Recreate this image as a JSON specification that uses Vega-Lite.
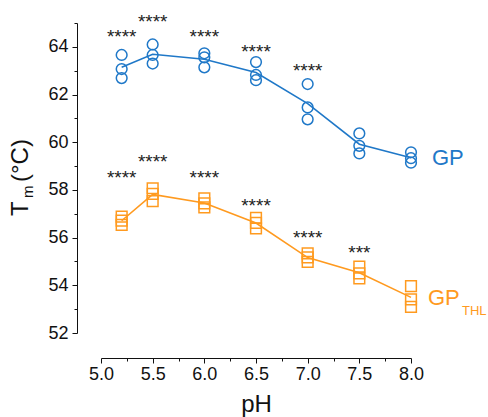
{
  "$schema": "https://vega.github.io/schema/vega-lite/v6.json",
  "width": 310,
  "height": 310,
  "autosize": {"type": "none"},
  "padding": {"left": 101, "top": 23, "right": 77, "bottom": 84},
  "background": "white",
  "config": {"font": "Liberation Sans", "view": {"stroke": null}},
  "datasets": {
    "pts": [
      {"series": "GP", "pH": 5.2, "Tm": 63.66}, {"series": "GP", "pH": 5.2, "Tm": 63.07}, {"series": "GP", "pH": 5.2, "Tm": 62.69},
      {"series": "GP", "pH": 5.5, "Tm": 64.1}, {"series": "GP", "pH": 5.5, "Tm": 63.66}, {"series": "GP", "pH": 5.5, "Tm": 63.3},
      {"series": "GP", "pH": 6.0, "Tm": 63.73}, {"series": "GP", "pH": 6.0, "Tm": 63.56}, {"series": "GP", "pH": 6.0, "Tm": 63.14},
      {"series": "GP", "pH": 6.5, "Tm": 63.36}, {"series": "GP", "pH": 6.5, "Tm": 62.82}, {"series": "GP", "pH": 6.5, "Tm": 62.6},
      {"series": "GP", "pH": 7.0, "Tm": 62.44}, {"series": "GP", "pH": 7.0, "Tm": 61.46}, {"series": "GP", "pH": 7.0, "Tm": 60.96},
      {"series": "GP", "pH": 7.5, "Tm": 60.37}, {"series": "GP", "pH": 7.5, "Tm": 59.85}, {"series": "GP", "pH": 7.5, "Tm": 59.53},
      {"series": "GP", "pH": 8.0, "Tm": 59.58}, {"series": "GP", "pH": 8.0, "Tm": 59.33}, {"series": "GP", "pH": 8.0, "Tm": 59.14},
      {"series": "GP_THL", "pH": 5.2, "Tm": 56.88}, {"series": "GP_THL", "pH": 5.2, "Tm": 56.71}, {"series": "GP_THL", "pH": 5.2, "Tm": 56.53},
      {"series": "GP_THL", "pH": 5.5, "Tm": 58.07}, {"series": "GP_THL", "pH": 5.5, "Tm": 57.83}, {"series": "GP_THL", "pH": 5.5, "Tm": 57.53},
      {"series": "GP_THL", "pH": 6.0, "Tm": 57.65}, {"series": "GP_THL", "pH": 6.0, "Tm": 57.44}, {"series": "GP_THL", "pH": 6.0, "Tm": 57.27},
      {"series": "GP_THL", "pH": 6.5, "Tm": 56.83}, {"series": "GP_THL", "pH": 6.5, "Tm": 56.62}, {"series": "GP_THL", "pH": 6.5, "Tm": 56.39},
      {"series": "GP_THL", "pH": 7.0, "Tm": 55.34}, {"series": "GP_THL", "pH": 7.0, "Tm": 55.17}, {"series": "GP_THL", "pH": 7.0, "Tm": 54.98},
      {"series": "GP_THL", "pH": 7.5, "Tm": 54.78}, {"series": "GP_THL", "pH": 7.5, "Tm": 54.5}, {"series": "GP_THL", "pH": 7.5, "Tm": 54.29},
      {"series": "GP_THL", "pH": 8.0, "Tm": 53.97}, {"series": "GP_THL", "pH": 8.0, "Tm": 53.41}, {"series": "GP_THL", "pH": 8.0, "Tm": 53.1}
    ],
    "stars": [
      {"pH": 5.2, "Tm": 64.62, "text": "****"},
      {"pH": 5.5, "Tm": 65.27, "text": "****"},
      {"pH": 6.0, "Tm": 64.62, "text": "****"},
      {"pH": 6.5, "Tm": 63.99, "text": "****"},
      {"pH": 7.0, "Tm": 63.2, "text": "****"},
      {"pH": 5.2, "Tm": 58.71, "text": "****"},
      {"pH": 5.5, "Tm": 59.38, "text": "****"},
      {"pH": 6.0, "Tm": 58.71, "text": "****"},
      {"pH": 6.5, "Tm": 57.55, "text": "****"},
      {"pH": 7.0, "Tm": 56.21, "text": "****"},
      {"pH": 7.5, "Tm": 55.58, "text": "***"}
    ],
    "bigLabels": [
      {"series": "GP", "pH": 8.203, "Tm": 59.045, "text": "GP"},
      {"series": "GP_THL", "pH": 8.164, "Tm": 53.174, "text": "GP"}
    ],
    "subLabels": [
      {"series": "GP_THL", "pH": 8.493, "Tm": 52.755, "text": "THL"}
    ],
    "titleBig": [
      {"pH": 4.2935, "Tm": 56.906, "text": "T"},
      {"pH": 4.2935, "Tm": 58.332, "text": "(°C)"}
    ],
    "titleSub": [
      {"pH": 4.3419, "Tm": 57.661, "text": "m"}
    ]
  },
  "encoding": {
    "x": {
      "field": "pH", "type": "quantitative",
      "scale": {"domain": [5, 8], "nice": false, "zero": false},
      "axis": {
        "title": "pH", "titleFontSize": 24, "titleFontWeight": "normal", "titleColor": "#111", "titlePadding": 9,
        "values": [5, 5.25, 5.5, 5.75, 6, 6.25, 6.5, 6.75, 7, 7.25, 7.5, 7.75, 8],
        "labelExpr": "(datum.value * 2) % 1 === 0 ? format(datum.value, '.1f') : ''",
        "labelFontSize": 18, "labelColor": "#111", "labelPadding": 2, "labelFlush": false, "labelOverlap": false,
        "tickSize": {"condition": {"test": "(datum.value * 2) % 1 === 0", "value": 5}, "value": 3},
        "tickColor": "#111", "domainColor": "#111", "grid": false, "offset": 25
      }
    },
    "y": {
      "field": "Tm", "type": "quantitative",
      "scale": {"domain": [52, 65], "nice": false, "zero": false},
      "axis": {
        "title": null,
        "values": [52, 53, 54, 55, 56, 57, 58, 59, 60, 61, 62, 63, 64, 65],
        "labelExpr": "datum.value % 2 === 0 ? datum.label : ''",
        "labelFontSize": 18, "labelColor": "#111", "labelPadding": 4, "labelOverlap": false, "labelFlush": false,
        "tickSize": {"condition": {"test": "datum.value % 2 === 0", "value": 5}, "value": 3},
        "tickColor": "#111", "domainColor": "#111", "grid": false, "offset": 24
      }
    }
  },
  "layer": [
    {
      "data": {"name": "pts"},
      "mark": {"type": "line", "strokeWidth": 1.6},
      "encoding": {
        "y": {"aggregate": "mean", "field": "Tm", "type": "quantitative"},
        "color": {"field": "series", "type": "nominal", "scale": {"domain": ["GP", "GP_THL"], "range": ["#1f78c8", "#ff9a1f"]}, "legend": null}
      }
    },
    {
      "data": {"name": "pts"},
      "mark": {"type": "point", "filled": false, "strokeWidth": 1.5, "size": 115, "opacity": 1},
      "encoding": {
        "color": {"field": "series", "type": "nominal", "legend": null},
        "shape": {"field": "series", "type": "nominal", "scale": {"domain": ["GP", "GP_THL"], "range": ["circle", "square"]}, "legend": null}
      }
    },
    {
      "data": {"name": "stars"},
      "mark": {"type": "text", "fontSize": 19, "color": "#222", "align": "center", "baseline": "alphabetic", "dy": 11},
      "encoding": {"text": {"field": "text"}}
    },
    {
      "data": {"name": "bigLabels"},
      "mark": {"type": "text", "fontSize": 22, "align": "left", "baseline": "alphabetic"},
      "encoding": {"text": {"field": "text"}, "color": {"field": "series", "type": "nominal", "legend": null}}
    },
    {
      "data": {"name": "subLabels"},
      "mark": {"type": "text", "fontSize": 13, "align": "left", "baseline": "alphabetic"},
      "encoding": {"text": {"field": "text"}, "color": {"field": "series", "type": "nominal", "legend": null}}
    },
    {
      "data": {"name": "titleBig"},
      "mark": {"type": "text", "fontSize": 24, "align": "left", "baseline": "alphabetic", "angle": 270, "color": "#111"},
      "encoding": {"text": {"field": "text"}}
    },
    {
      "data": {"name": "titleSub"},
      "mark": {"type": "text", "fontSize": 15, "align": "left", "baseline": "alphabetic", "angle": 270, "color": "#111"},
      "encoding": {"text": {"field": "text"}}
    }
  ]
}
